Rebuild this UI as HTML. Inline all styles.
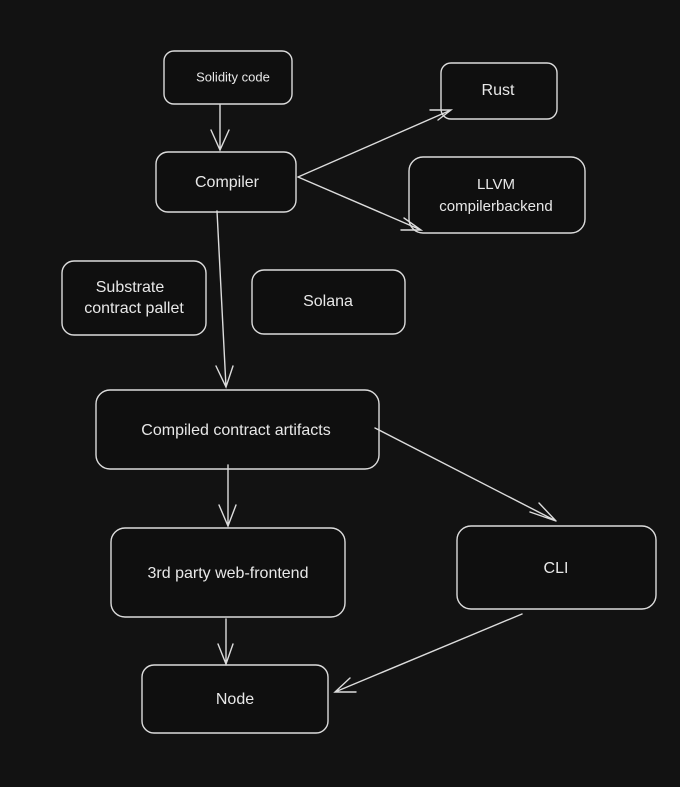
<!DOCTYPE html>
<html><head><meta charset="utf-8">
<style>
html,body{margin:0;padding:0;background:#121212;}
svg{display:block;}
text{font-family:"Liberation Sans",sans-serif;fill:#e8e8e8;text-anchor:middle;dominant-baseline:middle;}
</style></head>
<body>
<svg width="680" height="787" viewBox="0 0 680 787" xmlns="http://www.w3.org/2000/svg">
<rect width="680" height="787" fill="#121212"/>
<g fill="#0f0f0f" stroke="#dcdcdc" stroke-width="1.4">
<rect x="164" y="51" width="128" height="53" rx="10"/>
<rect x="441" y="63" width="116" height="56" rx="10"/>
<rect x="156" y="152" width="140" height="60" rx="12"/>
<rect x="409" y="157" width="176" height="76" rx="14"/>
<rect x="62" y="261" width="144" height="74" rx="12"/>
<rect x="252" y="270" width="153" height="64" rx="12"/>
<rect x="96" y="390" width="283" height="79" rx="14"/>
<rect x="111" y="528" width="234" height="89" rx="14"/>
<rect x="457" y="526" width="199" height="83" rx="14"/>
<rect x="142" y="665" width="186" height="68" rx="12"/>
</g>
<g fill="none" stroke="#dcdcdc" stroke-width="1.4" stroke-linecap="round">
<path d="M220 105 L220 150 M211 130 L220 150 L229 130"/>
<path d="M298 177 L451 110 M430 110 L451 110 L438 120"/>
<path d="M298 177 L421 230 M404 218 L421 230 L401 230"/>
<path d="M217 211 L226 387 M216 366 L226 387 L233 366"/>
<path d="M375 428 L556 521 M530 512 L556 521 L539 503"/>
<path d="M228 465 L228 526 M219 505 L228 526 L236 505"/>
<path d="M226 619 L226 664 M218 644 L226 664 L233 644"/>
<path d="M522 614 L335 692 M350 678 L335 692 L356 692"/>
</g>
<text x="233" y="78" font-size="13">Solidity code</text>
<text x="498" y="91" font-size="16">Rust</text>
<text x="227" y="183" font-size="16">Compiler</text>
<text x="496" y="185" font-size="15">LLVM</text>
<text x="496" y="207" font-size="15">compilerbackend</text>
<text x="130" y="288" font-size="16">Substrate</text>
<text x="134" y="309" font-size="16">contract pallet</text>
<text x="328" y="302" font-size="16">Solana</text>
<text x="236" y="431" font-size="16">Compiled contract artifacts</text>
<text x="228" y="574" font-size="16">3rd party web-frontend</text>
<text x="556" y="569" font-size="16">CLI</text>
<text x="235" y="700" font-size="16">Node</text>
</svg>
</body></html>
